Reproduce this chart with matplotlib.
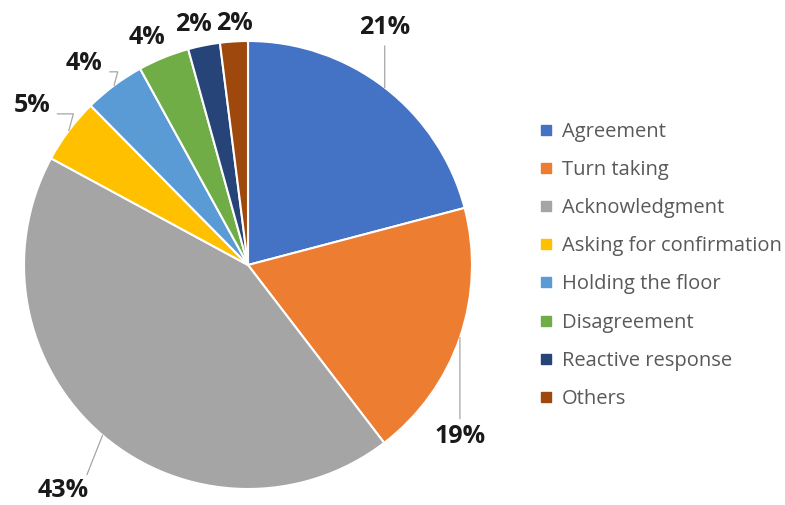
import matplotlib.pyplot as plt
import numpy as np

categories = ['Agreement', 'Turn taking', 'Acknowledgment', 'Asking for confirmation',
              'Holding the floor', 'Disagreement', 'Reactive response', 'Others']
shares = [20.9, 18.7, 43.3, 4.7, 4.4, 3.7, 2.3, 2.0]
pct_labels = ['21%', '19%', '43%', '5%', '4%', '4%', '2%', '2%']
colors = ['#4472C4', '#ED7D31', '#A5A5A5', '#FFC000', '#5B9BD5', '#70AD47', '#264478', '#9E480E']

# label placement (angle in degrees, distance in radii) and leader style
label_pos = [(59.4, 1.23), (-38.6, 1.23), (-129.4, 1.30), (143.5, 1.20),
             (129.0, 1.16), (114.0, 1.11), (102.9, 1.10), (93.3, 1.08)]
leader = ['vert', 'vert', 'straight', 'elbow', 'elbow', None, None, None]

fig = plt.figure(figsize=(7.85, 5.05), dpi=100)
ax = fig.add_axes([24 / 785, 16 / 505, 448 / 785, 448 / 505])

wedges, _ = ax.pie(shares, colors=colors, startangle=90, counterclock=False,
                   radius=1, wedgeprops=dict(edgecolor='white', linewidth=1.5))
ax.set_xlim(-1, 1)
ax.set_ylim(-1, 1)
ax.set_aspect('equal')
ax.axis('off')

for w, txt, (ang, dist), kind in zip(wedges, pct_labels, label_pos, leader):
    mid = np.deg2rad((w.theta1 + w.theta2) / 2)
    edge = (np.cos(mid), np.sin(mid))
    tx, ty = dist * np.cos(np.deg2rad(ang)), dist * np.sin(np.deg2rad(ang))
    kw = dict(ha='center', va='center', fontsize=18, fontweight='bold',
              family='Open Sans', color='#1a1a1a', annotation_clip=False)
    if kind is None:
        ax.annotate(txt, xy=(tx, ty), **kw)
        continue
    if kind == 'vert':
        ap = dict(arrowstyle='-', color='#a6a6a6', lw=0.9, shrinkA=2, shrinkB=0,
                  relpos=(0.5, 0.0 if ty > 0 else 1.0))
        ax.annotate(txt, xy=edge, xytext=(edge[0], ty), **kw, arrowprops=ap)
    elif kind == 'elbow':
        ap = dict(arrowstyle='-', color='#a6a6a6', lw=0.9, shrinkA=3, shrinkB=0,
                  relpos=(1.0, 0.15),
                  connectionstyle='angle,angleA=0,angleB=75,rad=0')
        ax.annotate(txt, xy=edge, xytext=(tx, ty), **kw, arrowprops=ap)
    else:
        ap = dict(arrowstyle='-', color='#a6a6a6', lw=0.9, shrinkA=0, shrinkB=0,
                  relpos=(0.75, 0.0))
        ax.annotate(txt, xy=edge, xytext=(tx, ty), **kw, arrowprops=ap)

handles = [plt.Line2D([], [], marker='s', linestyle='', markersize=7,
                      markerfacecolor=c, markeredgecolor=c) for c in colors]
fig.legend(handles, categories, loc='upper left', bbox_to_anchor=(538 / 785, 1 - 122 / 505),
           frameon=False, borderaxespad=0, borderpad=0, handlelength=0.8, handletextpad=0.4,
           labelspacing=0.9, prop=dict(family='Open Sans', size=14.5), labelcolor='#595959')

fig.savefig('out.png', dpi=100)
